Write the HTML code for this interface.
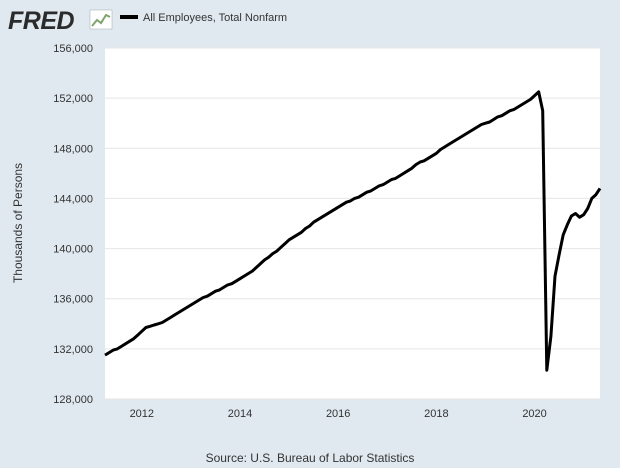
<!DOCTYPE html>
<html><head><meta charset="utf-8"><style>
body{margin:0;background:#e1e9f0;font-family:"Liberation Sans",sans-serif;}
svg{display:block}
</style></head><body>
<svg width="620" height="468" id="c">
<rect x="0" y="0" width="620" height="468" fill="#e1e9f0"/>
<g>
<text x="8" y="29" font-size="25" font-weight="bold" fill="#2b2b2b" font-style="italic" letter-spacing="-0.5">FRED</text>
<rect x="90" y="10" width="22" height="19" fill="#fff" stroke="#9aa" stroke-width="0.5"/>
<polyline points="92,26 97,20 101,23 106,15 110,17" fill="none" stroke="#7fa36b" stroke-width="2"/>
</g>
<g>
<line x1="120" y1="17" x2="138" y2="17" stroke="#000" stroke-width="4"/>
<text x="143" y="21" font-size="11" fill="#333">All Employees, Total Nonfarm</text>
</g>
<rect x="105" y="48" width="495" height="351" fill="#fff"/>
<g id="grid"></g><g id="yl"></g><g id="xl"></g>
<text transform="translate(22,223) rotate(-90)" text-anchor="middle" font-size="12" fill="#333">Thousands of Persons</text>
<text x="310" y="462" text-anchor="middle" font-size="12" fill="#333">Source: U.S. Bureau of Labor Statistics</text>
<path id="line" fill="none" stroke="#000" stroke-width="3" stroke-linejoin="round"/>
</svg>
<script>
const startYear = 2011, startMonth = 4;
const values = [
131500,131700,131900,132000,132200,132400,132600,132800,133100,
133400,133700,133800,133900,134000,134100,134300,134500,134700,134900,135100,135300,
135500,135700,135900,136100,136200,136400,136600,136700,136900,137100,137200,137400,
137600,137800,138000,138200,138500,138800,139100,139300,139600,139800,140100,140400,
140700,140900,141100,141300,141600,141800,142100,142300,142500,142700,142900,143100,
143300,143500,143700,143800,144000,144100,144300,144500,144600,144800,145000,145100,
145300,145500,145600,145800,146000,146200,146400,146700,146900,147000,147200,147400,
147600,147900,148100,148300,148500,148700,148900,149100,149300,149500,149700,149900,
150000,150100,150300,150500,150600,150800,151000,151100,151300,151500,151700,151900,
152200,152500,151000,130300,133000,137800,139500,141100,141900,142600,142800,142500,
142700,143200,144000,144300,144800];
const yTicks = [128000,132000,136000,140000,144000,148000,152000,156000];
const xTicks = [2012,2014,2016,2018,2020];
const X0=105,X1=600,Y0=399,Y1=48;
const tMin=2011.25, tMax=2021.333;
const xs=t=>X0+(t-tMin)/(tMax-tMin)*(X1-X0);
const ys=v=>Y0-(v-128000)/(156000-128000)*(Y0-Y1);
const NS="http://www.w3.org/2000/svg";
const grid=document.getElementById('grid'),yl=document.getElementById('yl'),xl=document.getElementById('xl');
yTicks.forEach(v=>{
 const l=document.createElementNS(NS,'line');
 l.setAttribute('x1',X0);l.setAttribute('x2',X1);l.setAttribute('y1',ys(v));l.setAttribute('y2',ys(v));
 l.setAttribute('stroke','#e6e6e6');l.setAttribute('stroke-width','1');
 
 
 grid.appendChild(l);
 const t=document.createElementNS(NS,'text');
 t.setAttribute('x',93);t.setAttribute('y',ys(v)+4);t.setAttribute('text-anchor','end');
 t.setAttribute('font-size','11');t.setAttribute('fill','#333');
 t.textContent=v.toLocaleString('en-US');
 
 
 yl.appendChild(t);
});
xTicks.forEach(y=>{
 const t=document.createElementNS(NS,'text');
 t.setAttribute('x',xs(y));t.setAttribute('y',417);t.setAttribute('text-anchor','middle');
 t.setAttribute('font-size','11');t.setAttribute('fill','#333');
 t.textContent=y;
 
 
 xl.appendChild(t);
});
let d='';
values.forEach((v,i)=>{
 const t=startYear+(startMonth-1+i)/12;
 d+=(i?'L':'M')+xs(t).toFixed(1)+','+ys(v).toFixed(1);
});
document.getElementById('line').setAttribute('d',d);
</script>
</body></html>
